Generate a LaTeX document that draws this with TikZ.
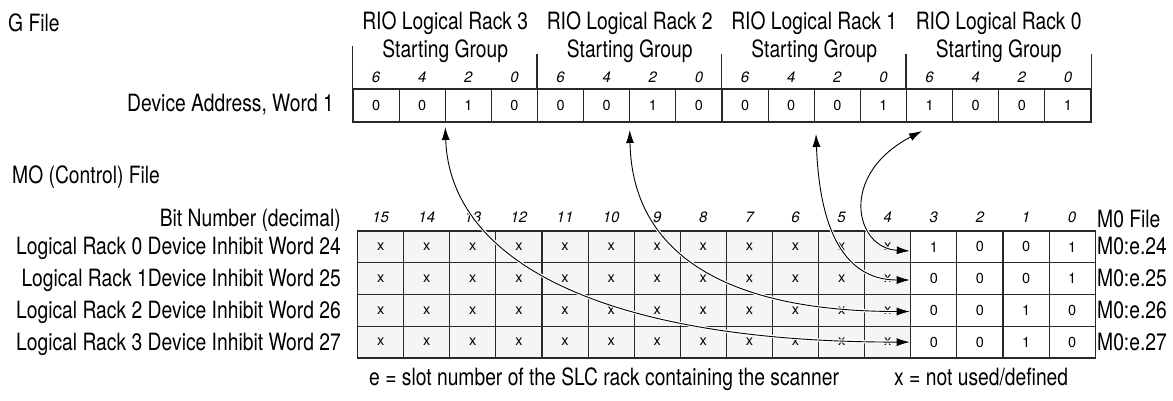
\documentclass[tikz,border=0pt]{standalone}
\usepackage{fontspec}
\setmainfont{TeX Gyre Heros}[FakeStretch=0.81]
\newfontfamily\cellfont{TeX Gyre Heros}
\usetikzlibrary{arrows.meta}
\definecolor{cellgray}{RGB}{245,245,247}
\definecolor{linecol}{RGB}{40,40,40}
\begin{document}
\begin{tikzpicture}[x=1pt,y=-1pt,
  lab/.style={font=\fontsize{23.8}{27}\selectfont, inner sep=0pt, text=black},
  bitlab/.style={font=\cellfont\itshape\fontsize{15}{17}\selectfont, inner sep=0pt, anchor=base},
  topcell/.style={draw=linecol, line width=1.1pt, minimum width=46.125pt, minimum height=33pt, inner sep=0pt, font=\cellfont\fontsize{14.5}{16}\selectfont},
  botcell/.style={draw=linecol, line width=1.1pt, minimum width=46.1pt, minimum height=31.75pt, inner sep=0pt, font=\cellfont\fontsize{14.5}{16}\selectfont},
  unused/.style={botcell, fill=cellgray},
  halo/.style={draw=white, line width=3.2pt, shorten <=12pt, shorten >=12pt},
  arr/.style={{Latex[length=13pt,width=8pt]}-{Latex[length=13pt,width=8pt]}, line width=0.9pt, draw=black}]
\useasboundingbox (0,0) rectangle (1173,400);

% ---------- G file ----------
\node[lab, anchor=base west] (gfile) at (8,31) {G File};
\node[lab, anchor=base east] (devaddr) at (334,111.5) {Device Address, Word 1};

\foreach \i/\v in {0/0,1/0,2/1,3/0,4/0,5/0,6/1,7/0,8/0,9/0,10/0,11/1,12/1,13/0,14/0,15/1}{
  \node[topcell] (t\i) at ({353+46.125*(\i+0.5)},105.5) {\v};
  \pgfmathtruncatemacro\bitn{6-2*mod(\i,4)}
  \node[bitlab] (tb\i) at ({353+46.125*(\i+0.5)},82) {\bitn};
}
% group separators
\draw[linecol, line width=1.1pt] (t0.north west) -- ++(0,-42);
\draw[linecol, line width=1.1pt] (t4.north west) -- ++(0,-34);
\draw[linecol, line width=1.1pt] (t8.north west) -- ++(0,-34);
\draw[linecol, line width=1.1pt] (t12.north west) -- ++(0,-34);
\draw[linecol, line width=1.1pt] (t15.north east) -- ++(0,-34);

\foreach \g/\n in {0/3,1/2,2/1,3/0}{
  \node[lab, anchor=base] (rio\n) at ({353+46.125*(4*\g+2)},29.5) {RIO Logical Rack \n};
  \node[lab, anchor=base] (sg\n) at ({353+46.125*(4*\g+2)},57.5) {Starting Group};
}

% ---------- M0 file ----------
\node[lab, anchor=base west] (mofile) at (12,183) {MO (Control) File};
\node[lab, anchor=base east] (bitnum) at (341,226) {Bit Number (decimal)};
\node[lab, anchor=base west] (m0file) at (1097,227) {M0 File};

\foreach \k in {0,...,15}{
  \pgfmathtruncatemacro\bitn{15-\k}
  \node[bitlab] (bb\k) at ({357.6+46.1*(\k+0.5)},222.5) {\bitn};
}

\foreach \r/\a/\b/\cc/\d/\w in {0/1/0/0/1/24, 1/0/0/0/1/25, 2/0/0/1/0/26, 3/0/0/1/0/27}{
  \pgfmathsetmacro\yy{231+31.75*(\r+0.5)}
  \foreach \k in {0,...,11}{
    \node[unused] (m\r-\k) at ({357.6+46.1*(\k+0.5)},\yy) {x};
  }
  \node[botcell] (m\r-12) at ({357.6+46.1*12.5},\yy) {\a};
  \node[botcell] (m\r-13) at ({357.6+46.1*13.5},\yy) {\b};
  \node[botcell] (m\r-14) at ({357.6+46.1*14.5},\yy) {\cc};
  \node[botcell] (m\r-15) at ({357.6+46.1*15.5},\yy) {\d};
  \node[lab, anchor=base west] (mr\r) at (1097,\yy+8) {M0:e.\w};
}
\node[lab, anchor=base east] (rl0) at (341,254.9) {Logical Rack 0 Device Inhibit Word 24};
\node[lab, anchor=base east] (rl1) at (341,286.6) {Logical Rack 1Device Inhibit Word 25};
\node[lab, anchor=base east] (rl2) at (341,318.4) {Logical Rack 2 Device Inhibit Word 26};
\node[lab, anchor=base east] (rl3) at (341,350.1) {Logical Rack 3 Device Inhibit Word 27};

% footnotes
\node[lab, anchor=base west] (fn1) at (369,385.5) {e = slot number of the SLC rack containing the scanner};
\node[lab, anchor=base west] (fn2) at (894,385.5) {x = not used/defined};

% ---------- connectors ----------
\coordinate (u3) at (445.25,127);
\coordinate (u2) at (629.75,130);
\coordinate (u1) at (816,134);
\coordinate (u0) at (922,131);
\coordinate (b3) at (909.7,342.1);
\coordinate (b2) at (909.7,311.5);
\coordinate (b1) at (909.7,280);
\coordinate (b0) at (909.7,251);

\path[halo] (u3) .. controls (450,260) and (600,342.1) .. (b3);
\draw[arr] (u3) .. controls (450,260) and (600,342.1) .. (b3);
\path[halo] (u2) .. controls (632,250) and (720,311.5) .. (b2);
\draw[arr] (u2) .. controls (632,250) and (720,311.5) .. (b2);
\path[halo] (u1) .. controls (820,240) and (850,280) .. (b1);
\draw[arr] (u1) .. controls (820,240) and (850,280) .. (b1);
\path[halo] (b0) .. controls (855,248) and (838,175) .. (u0);
\draw[arr] (b0) .. controls (855,248) and (838,175) .. (u0);
\end{tikzpicture}
\end{document}
